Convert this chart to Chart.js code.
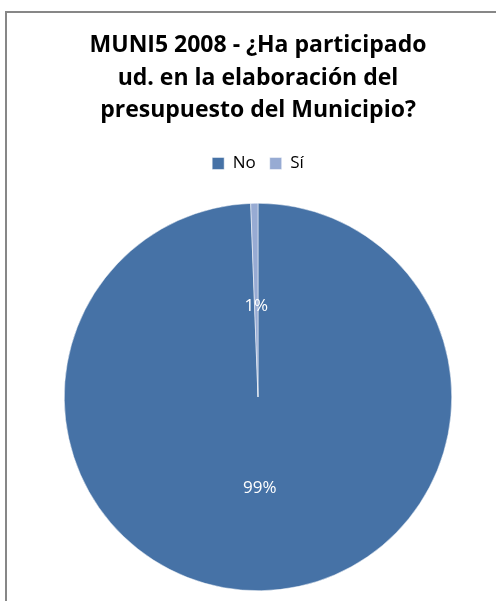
<!DOCTYPE html>
<html>
<head>
<meta charset="utf-8">
<script src="https://cdn.jsdelivr.net/npm/chart.js@4.4.0/dist/chart.umd.min.js"></script>
<style>
  html, body { margin: 0; padding: 0; background: #fff; }
  #wrap { position: relative; width: 496px; height: 601px; overflow: hidden; }
  #frame { position: absolute; left: 5px; top: 11px; width: 600px; height: 700px;
           border-left: 2px solid #878787; border-top: 2px solid #878787; pointer-events: none; }
  canvas { position: absolute; left: 0; top: 0; }
</style>
</head>
<body>
<div id="wrap">
  <canvas id="myChart" width="496" height="612"></canvas>
  <div id="frame"></div>
</div>
<script>
const titleLines = ['MUNI5 2008 - ¿Ha participado', 'ud. en la elaboración del', 'presupuesto del Municipio?'];
const answers = ['No', 'Sí'];
const shares = [99.4, 0.6];
const sliceColors = ['#4672a6', '#97abd3'];

const ctx = document.getElementById('myChart');

// percent labels inside the slices, roughly half way out
const pctLabels = {
  id: 'pctLabels',
  afterDatasetsDraw(chart) {
    const c = chart.ctx;
    const meta = chart.getDatasetMeta(0);
    const total = shares.reduce((a, b) => a + b, 0);
    c.save();
    c.fillStyle = '#ffffff';
    c.font = '17px "Open Sans", sans-serif';
    c.textAlign = 'center';
    c.textBaseline = 'middle';
    meta.data.forEach((arc, i) => {
      const mid = (arc.startAngle + arc.endAngle) / 2;
      const r = arc.outerRadius * 0.47;
      const x = arc.x + Math.cos(mid) * r;
      const y = arc.y + Math.sin(mid) * r;
      c.fillText(Math.round(shares[i] / total * 100) + '%', x, y);
    });
    c.restore();
  }
};

new Chart(ctx, {
  type: 'pie',
  data: {
    labels: answers,
    datasets: [{
      data: shares,
      backgroundColor: sliceColors,
      borderColor: '#ffffff',
      borderWidth: 0.5
    }]
  },
  options: {
    responsive: false,
    animation: false,
    rotation: 0,
    layout: {
      padding: { left: 64, right: 44, top: 0, bottom: 0 }
    },
    plugins: {
      tooltip: { enabled: false },
      title: {
        display: true,
        text: titleLines,
        color: '#000000',
        font: { family: '"Open Sans", sans-serif', size: 23, weight: 'bold', lineHeight: 1.42 },
        padding: { top: 29, bottom: 14 }
      },
      legend: {
        display: true,
        position: 'top',
        labels: {
          color: '#000000',
          boxWidth: 12,
          boxHeight: 12,
          padding: 14,
          font: { family: '"Open Sans", sans-serif', size: 17 }
        }
      }
    }
  },
  plugins: [pctLabels]
});
</script>
</body>
</html>
